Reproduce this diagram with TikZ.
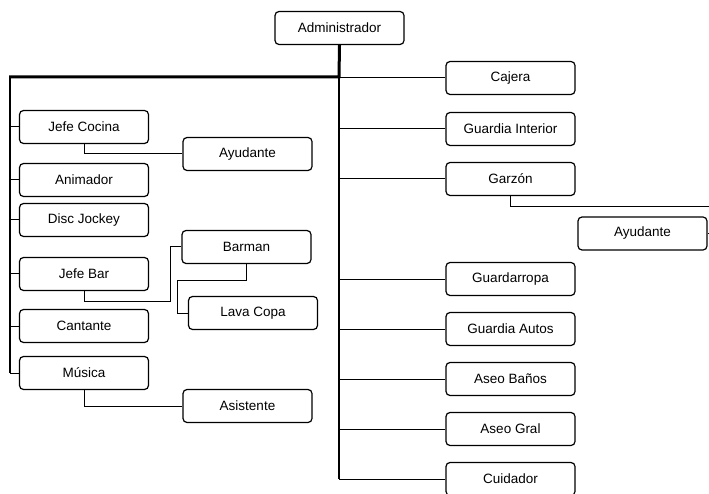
\documentclass[tikz,border=0pt]{standalone}
\usepackage{fontspec}
\setmainfont{Liberation Sans}
\begin{document}
\begin{tikzpicture}[x=1pt,y=-1pt,
  puesto/.style={draw,rounded corners=4pt,line width=1.2pt,minimum width=129pt,minimum height=33pt,inner sep=0pt,font=\fontsize{13.5}{15}\selectfont},
  rama/.style={line width=1pt},
  tronco/.style={line width=1.8pt},
  grueso/.style={line width=3pt}]
\useasboundingbox (0,0) rectangle (709,494);
\node[puesto] (admin) at (339.5,28) {Administrador};
\coordinate (hub) at (339,77);
\coordinate (izq) at (10,77);
\node[puesto] (cajera) at (510.5,78) {Cajera};
\node[puesto] (ginterior) at (510.5,129) {Guardia Interior};
\node[puesto] (garzon) at (510.5,179) {Garzón};
\node[puesto] (ayugarzon) at (642.5,233.5) {Ayudante};
\node[puesto] (guardarropa) at (510.5,279) {Guardarropa};
\node[puesto] (gautos) at (510.5,329) {Guardia Autos};
\node[puesto] (abanos) at (510.5,379) {Aseo Baños};
\node[puesto] (agral) at (510.5,429) {Aseo Gral};
\node[puesto] (cuidador) at (510.5,479) {Cuidador};
\node[puesto] (jcocina) at (84,127) {Jefe Cocina};
\node[puesto] (ayucocina) at (247.5,154) {Ayudante};
\node[puesto] (animador) at (84,180) {Animador};
\node[puesto] (disc) at (84,220) {Disc Jockey};
\node[puesto] (jbar) at (84,274) {Jefe Bar};
\node[puesto] (barman) at (246.5,247) {Barman};
\node[puesto] (lavacopa) at (253,313) {Lava Copa};
\node[puesto] (cantante) at (84,326) {Cantante};
\node[puesto] (musica) at (84,373) {Música};
\node[puesto] (asistente) at (247.5,406) {Asistente};
\draw[tronco] (hub) -- (hub |- cuidador.west);
\draw[tronco] (izq) -- (izq |- musica.west);
\draw[grueso] (admin.south) -- (hub) -- ([xshift=-1pt]izq);
\foreach \p in {cajera,ginterior,garzon,guardarropa,gautos,abanos,agral,cuidador}
  \draw[rama] (hub) |- (\p.west);
\foreach \p in {jcocina,animador,disc,jbar,cantante,musica}
  \draw[rama] (izq) |- (\p.west);
\draw[rama] (jcocina.south) |- (ayucocina.west);
\draw[rama] (musica.south) |- (asistente.west);
\draw[rama] (jbar.south) -- ++(0,10) -| ([xshift=-11pt]barman.west) -- (barman.west);
\draw[rama] (barman.south) -- ++(0,16) -| ([xshift=-10pt]lavacopa.west) -- (lavacopa.west);
\draw[rama] (garzon.south) -- ++(0,10) -| ([xshift=8pt]ayugarzon.east) -- (ayugarzon.east);
\end{tikzpicture}
\end{document}
